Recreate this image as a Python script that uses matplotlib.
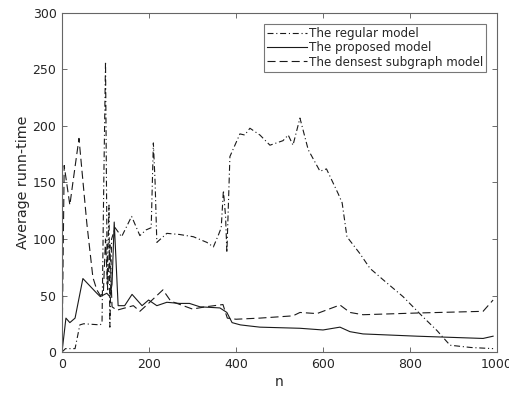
import matplotlib
matplotlib.use("Agg")
import matplotlib.pyplot as plt

# Regular model (dash-dot)
n_regular = [0, 8, 30, 41, 50, 88, 92, 96, 100, 104, 108, 110, 114, 122, 137, 160, 179, 193,
             205, 210, 214, 218, 241, 270, 302, 333, 348, 360, 366, 371, 376, 379, 386, 409,
             420, 432, 455, 478, 508, 520, 531, 547, 566, 593, 608, 635, 644, 655, 685, 708,
             738, 784, 830, 862, 892, 940, 991]
t_regular = [0, 3, 3, 24, 25, 24, 26, 150, 257, 60, 130, 22, 100, 110, 102, 120, 103, 108,
             110, 185, 150, 97, 105, 104, 102, 97, 93, 104, 110, 143, 120, 88, 173, 193,
             192, 198, 192, 183, 187, 192, 183, 207, 179, 160, 162, 140, 132, 102, 87, 74,
             64, 49, 31, 19, 6, 4, 3]

# Proposed model (solid)
n_proposed = [0, 9, 18, 30, 48, 80, 88, 103, 110, 115, 120, 129, 144, 161, 184, 199, 218,
              241, 270, 293, 317, 363, 379, 391, 410, 432, 455, 547, 600, 639, 662, 692,
              816, 968, 991]
t_proposed = [0, 30, 26, 30, 65, 52, 49, 52, 49, 60, 115, 41, 41, 51, 41, 46, 41,
              44, 43, 43, 40, 39, 35, 26, 24, 23, 22, 21, 19.5, 22, 18, 16,
              14, 12, 14]

# Densest subgraph model (dashed)
n_densest = [0, 5, 18, 25, 39, 57, 71, 80, 88, 95, 100, 105, 110, 115, 126, 164, 179, 196,
             232, 250, 300, 330, 370, 380, 400, 455, 531, 547, 586, 639, 662, 692, 816,
             968, 991]
t_densest = [0, 165, 130, 150, 189, 114, 66, 55, 50, 52, 100, 55, 95, 40, 37, 41, 36, 42,
             55, 45, 38, 40, 42, 30, 29, 30, 32, 35, 34, 41.6, 35, 33, 34.5,
             36, 46]

x_ticks = [0, 200, 400, 600, 800, 1000]
y_ticks = [0, 50, 100, 150, 200, 250, 300]

grey = "#262626"
line_color = "#1a1a1a"

plt.rcParams["font.family"] = ["DejaVu Sans"]
plt.rcParams["lines.scale_dashes"] = False
fig = plt.figure(figsize=(5.10, 3.93), dpi=100)
ax = fig.add_axes([0.1216, 0.1043, 0.8529, 0.8627])

dashdot = (0, (4.3, 2.0, 0.8, 2.0))
dashed = (0, (5.8, 2.9))

ax.plot(n_regular, t_regular, linestyle=dashdot, color=line_color, lw=0.8, label="The regular model")
ax.plot(n_proposed, t_proposed, linestyle="-", color=line_color, lw=0.8, label="The proposed model")
ax.plot(n_densest, t_densest, linestyle=dashed, color=line_color, lw=0.8, label="The densest subgraph model")

ax.set_xlim(0, 1000)
ax.set_ylim(0, 300)
ax.set_xticks(x_ticks)
ax.set_yticks(y_ticks)
ax.tick_params(direction="in", length=3.5, width=0.6, colors="#555555", labelcolor=grey,
               labelsize=9, top=True, right=True, pad=4)
for s in ax.spines.values():
    s.set_color("#666666")
    s.set_linewidth(0.8)

ax.set_xlabel("n", fontsize=10, color=grey, labelpad=3)
ax.set_ylabel("Average runn-time", fontsize=10.3, color=grey, labelpad=2)

leg = ax.legend(loc="upper right", fontsize=8.6, frameon=True, fancybox=False,
                handlelength=3.4, handletextpad=0.15, borderpad=0.25, labelspacing=0.12,
                borderaxespad=0.9)
leg.get_frame().set_edgecolor("#555555")
leg.get_frame().set_linewidth(0.8)
for t in leg.get_texts():
    t.set_color(grey)

fig.savefig("out.png", dpi=100)
